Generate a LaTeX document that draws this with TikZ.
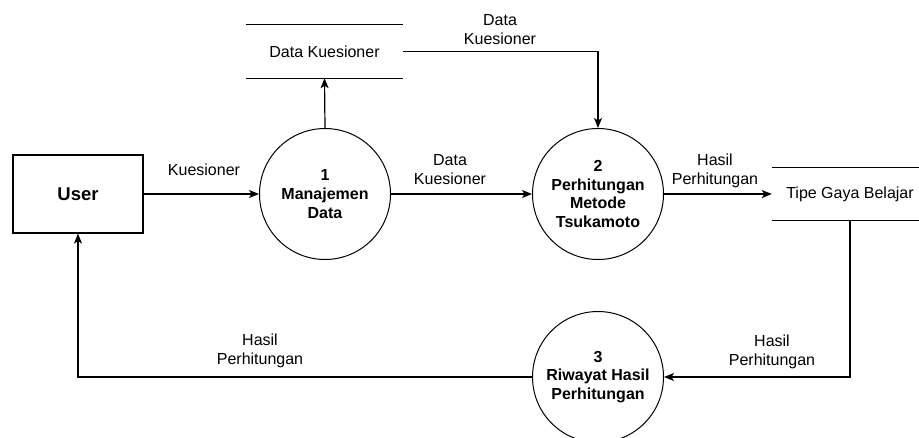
\documentclass[tikz,border=0pt]{standalone}
\usepackage{fontspec}
\setmainfont{Liberation Sans}
\usetikzlibrary{arrows.meta}
\begin{document}
\begin{tikzpicture}[x=1pt,y=-1pt,
  every node/.style={font=\fontsize{16}{18.5}\selectfont, align=center, inner sep=0pt},
  entity/.style={draw, line width=1.2pt, minimum width=130pt, minimum height=78pt,
                 font=\fontsize{18.5}{21}\selectfont\bfseries},
  process/.style={draw, circle, line width=1pt, minimum size=131pt,
                  font=\fontsize{16}{18.7}\selectfont\bfseries},
  store/.style={minimum height=53pt},
  storeline/.style={line width=1.2pt},
  flow/.style={line width=1.2pt, -{Stealth[length=10pt, width=8pt, inset=2.5pt]}},
  flowlabel/.style={font=\fontsize{16}{19}\selectfont}
]
\useasboundingbox (0,0) rectangle (919,437);

% external entity and processes
\node[entity] (user) at (78,194) {User};
\node[process] (p1) at (325,194) {1\\Manajemen\\Data};
\node[process] (p2) at (598,194) {2\\Perhitungan\\Metode\\Tsukamoto};
\node[process] (p3) at (598,377) {3\\Riwayat Hasil\\Perhitungan};

% data stores (open-ended boxes)
\node[store, minimum width=157pt] (ds1) at (324.5,51.5) {Data Kuesioner};
\draw[storeline] (ds1.north west) -- (ds1.north east);
\draw[storeline] (ds1.south west) -- (ds1.south east);

\node[store, minimum width=156pt, minimum height=52pt] (ds2) at (850,194) {Tipe Gaya Belajar};
\draw[storeline] (ds2.north west) -- (ds2.north east);
\draw[storeline] (ds2.south west) -- (ds2.south east);

% data flows
\draw[flow] (user.east) -- (p1.west);
\draw[flow] (p1.north) -- (ds1.south);
\draw[flow] (ds1.east) -| (p2.north);
\draw[flow] (p1.east) -- (p2.west);
\draw[flow] (p2.east) -- (ds2.west);
\draw[flow] (ds2.south) |- (p3.east);
\draw[flow] (p3.west) -| (user.south);

% flow labels
\node[flowlabel] (l1) at (204,170) {Kuesioner};
\node[flowlabel] (l2) at (450,170) {Data\\Kuesioner};
\node[flowlabel] (l3) at (500,30) {Data\\Kuesioner};
\node[flowlabel] (l4) at (715,170.5) {Hasil\\Perhitungan};
\node[flowlabel] (l5) at (772,352) {Hasil\\Perhitungan};
\node[flowlabel] (l6) at (260,351) {Hasil\\Perhitungan};
\end{tikzpicture}
\end{document}
